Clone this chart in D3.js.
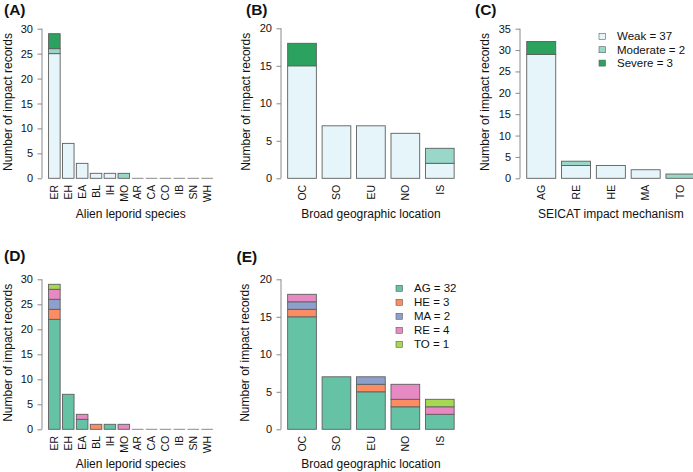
<!DOCTYPE html>
<html><head><meta charset="utf-8">
<script src="https://cdn.jsdelivr.net/npm/d3@7"></script>
<style>
html,body{margin:0;padding:0;background:#fff;}
svg{display:block;font-family:"Liberation Sans",Arial,Helvetica,sans-serif;}
</style></head>
<body>
<svg id="chart" width="693" height="472"></svg>
<script>
// ---------- categories ----------
const speciesCats   = ["ER","EH","EA","BL","IH","MO","AR","CA","CO","IB","SN","WH"];
const locationCats  = ["OC","SO","EU","NO","IS"];
const mechanismCats = ["AG","RE","HE","MA","TO"];
const severityLevels  = ["Weak","Moderate","Severe"];
const mechanismLevels = ["AG","HE","MA","RE","TO"];

// ---------- (A) severity by species ----------
const speciesWeak     = [25,7,3,1,1,0,0,0,0,0,0,0];
const speciesModerate = [1,0,0,0,0,1,0,0,0,0,0,0];
const speciesSevere   = [3,0,0,0,0,0,0,0,0,0,0,0];
// ---------- (B) severity by location ----------
const locationWeak     = [15,7,7,6,2];
const locationModerate = [0,0,0,0,2];
const locationSevere   = [3,0,0,0,0];
// ---------- (C) severity by mechanism ----------
const mechanismWeak     = [29,3,3,2,0];
const mechanismModerate = [0,1,0,0,1];
const mechanismSevere   = [3,0,0,0,0];
// ---------- (D) mechanism by species ----------
const speciesAG = [22,7,2,0,1,0,0,0,0,0,0,0];
const speciesHE = [2,0,0,1,0,0,0,0,0,0,0,0];
const speciesMA = [2,0,0,0,0,0,0,0,0,0,0,0];
const speciesRE = [2,0,1,0,0,1,0,0,0,0,0,0];
const speciesTO = [1,0,0,0,0,0,0,0,0,0,0,0];
// ---------- (E) mechanism by location ----------
const locationAG = [15,7,5,3,2];
const locationHE = [1,0,1,1,0];
const locationMA = [1,0,1,0,0];
const locationRE = [1,0,0,2,1];
const locationTO = [0,0,0,0,1];

// ---------- tick labels ----------
const ticks30 = [0,5,10,15,20,25,30];
const ticks20 = [0,5,10,15,20];
const ticks35 = [0,5,10,15,20,25,30,35];

const severityColors  = ["#e5f5f9","#99d8c9","#2ca25f"];
const mechanismColors = ["#66c2a5","#fc8d62","#8da0cb","#e78ac3","#a6d854"];

const svg = d3.select("#chart");
const AXIS = "#8a8a8a", BORDER = "#5e5e5e";

function panel(o){
  const g = svg.append("g");
  const n = o.cats.length;
  const L = o.left, R = o.right;
  const u = (R - L) / ((1.2*n - 0.2) * 1.08);
  const ext = 0.04 * (1.2*n - 0.2) * u;
  const x = d3.scaleBand().domain(o.cats)
      .range([L + ext - 0.1*u, R - ext + 0.1*u])
      .paddingInner(1/6).paddingOuter(1/12);
  const y = d3.scaleLinear().domain([0, o.ymax]).range([o.y0, o.ytop]);

  const rows = o.cats.map((c,i)=>{
    const r = {cat:c};
    o.keys.forEach((k,j)=> r[k] = o.series[j][i]);
    return r;
  });
  const stack = d3.stack().keys(o.keys)(rows);
  stack.forEach((layer,j)=>{
    g.selectAll(null).data(layer.filter(d=>d[1]-d[0]>0)).enter().append("rect")
      .attr("x", d=>x(d.data.cat)).attr("width", x.bandwidth())
      .attr("y", d=>y(d[1])).attr("height", d=>y(d[0])-y(d[1]))
      .attr("fill", o.colors[j]).attr("stroke", BORDER).attr("stroke-width",0.9);
  });
  rows.forEach(r=>{
    const tot = d3.sum(o.keys, k=>r[k]);
    if(tot===0){
      g.append("line").attr("x1",x(r.cat)).attr("x2",x(r.cat)+x.bandwidth())
        .attr("y1",y(0)).attr("y2",y(0)).attr("stroke","#8a8a8a").attr("stroke-width",1);
    }
  });

  const ax = g.append("g").attr("transform",`translate(${L},0)`)
    .call(d3.axisLeft(y).tickValues(o.ticks).tickSize(4.5).tickPadding(4.5).tickFormat(d3.format("d")));
  ax.select(".domain").attr("d",`M0,${y(0)}V${y(o.ticks[o.ticks.length-1])}`).attr("stroke",AXIS);
  ax.selectAll(".tick line").attr("stroke",AXIS);
  ax.selectAll(".tick text").attr("fill","#111").style("font-size","11px")
    .style("font-family","'Liberation Sans',Arial,sans-serif");

  g.selectAll(null).data(o.cats).enter().append("text")
    .attr("transform", d=>`translate(${x(d)+x.bandwidth()/2},${o.y0+6.5}) rotate(-90)`)
    .attr("text-anchor","end").attr("dy","0.36em")
    .style("font-size","10.5px").attr("fill","#111").text(d=>d);

  g.append("text").attr("x",(L+R)/2).attr("y",o.y0+o.xlabDy)
    .attr("text-anchor","middle").style("font-size","12px").attr("fill","#111").text(o.xlab);
  g.append("text").attr("transform",`translate(${o.ylabX},${(o.y0+o.ytop)/2 - 1.5}) rotate(-90)`)
    .attr("text-anchor","middle").attr("dy","0.36em").style("font-size","12px").attr("fill","#111")
    .text("Number of impact records");

  g.append("text").attr("x",o.tagX).attr("y",o.tagY).style("font-size","15.5px")
    .style("font-weight","bold").attr("fill","#111").text(o.tag);

  if(o.legend){
    const lg = g.append("g");
    o.keys.forEach((k,j)=>{
      const cy = o.legend.y + j*o.legend.dy;
      lg.append("rect").attr("x",o.legend.x).attr("y",cy-3).attr("width",6.5).attr("height",6)
        .attr("fill",o.colors[j]).attr("stroke",BORDER).attr("stroke-width",0.6);
      lg.append("text").attr("x",o.legend.x+18).attr("y",cy).attr("dy","0.36em")
        .style("font-size","11.5px").attr("fill","#111")
        .text(`${o.legend.labels[j]} = ${d3.sum(o.series[j])}`);
    });
  }
}

panel({tag:"(A)",tagX:4,tagY:14.5,cats:speciesCats,keys:severityLevels,
  series:[speciesWeak,speciesModerate,speciesSevere],colors:severityColors,
  left:42,right:219.5,y0:178.3,ytop:28.7,ymax:30,ticks:ticks30,ylabX:8,xlabDy:40,xlab:"Alien leporid species"});
panel({tag:"(B)",tagX:246,tagY:14.5,cats:locationCats,keys:severityLevels,
  series:[locationWeak,locationModerate,locationSevere],colors:severityColors,
  left:281,right:460.8,y0:178.3,ytop:28.3,ymax:20,ticks:ticks20,ylabX:246,xlabDy:40,xlab:"Broad geographic location"});
panel({tag:"(C)",tagX:475,tagY:14.5,cats:mechanismCats,keys:severityLevels,
  series:[mechanismWeak,mechanismModerate,mechanismSevere],colors:severityColors,
  left:520,right:701.7,y0:178.3,ytop:28.7,ymax:35,ticks:ticks35,ylabX:485,xlabDy:40,xlab:"SEICAT impact mechanism",
  legend:{x:599,y:36.3,dy:13.4,labels:severityLevels}});
panel({tag:"(D)",tagX:4,tagY:261,cats:speciesCats,keys:mechanismLevels,
  series:[speciesAG,speciesHE,speciesMA,speciesRE,speciesTO],colors:mechanismColors,
  left:42,right:219.5,y0:429.3,ytop:279.3,ymax:30,ticks:ticks30,ylabX:8,xlabDy:38.5,xlab:"Alien leporid species"});
panel({tag:"(E)",tagX:236.5,tagY:261.5,cats:locationCats,keys:mechanismLevels,
  series:[locationAG,locationHE,locationMA,locationRE,locationTO],colors:mechanismColors,
  left:281,right:460.8,y0:429.3,ytop:279.3,ymax:20,ticks:ticks20,ylabX:245,xlabDy:38.5,xlab:"Broad geographic location",
  legend:{x:396,y:288.3,dy:14,labels:mechanismLevels}});
</script>
</body></html>
